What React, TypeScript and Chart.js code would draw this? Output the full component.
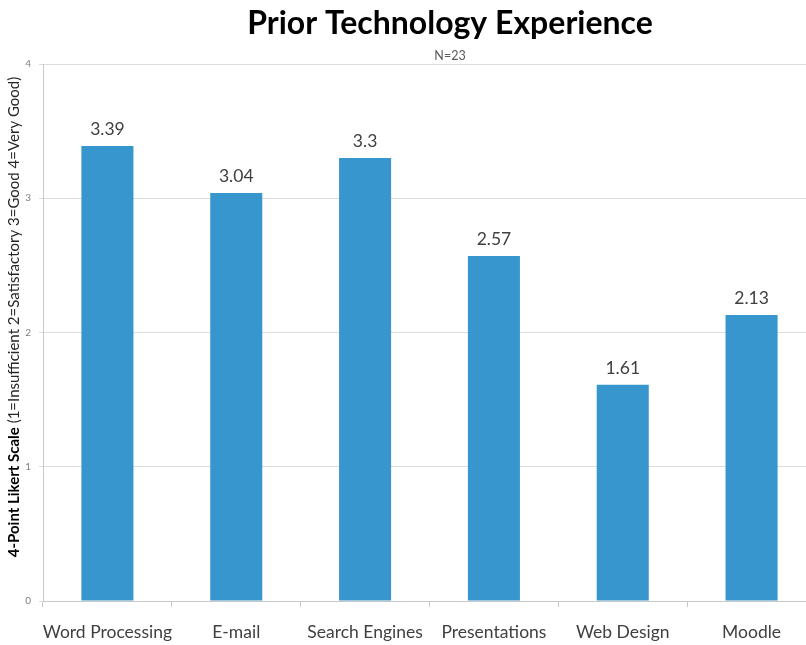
import React, { useEffect, useRef } from "react";
import { Chart, registerables } from "chart.js";

Chart.register(...registerables);

const categories = ["Word Processing", "E-mail", "Search Engines", "Presentations", "Web Design", "Moodle"];
const values = [3.39, 3.04, 3.3, 2.57, 1.61, 2.13];
const yTicks = [0, 1, 2, 3, 4];
const titleText = "Prior Technology Experience";
const subtitleText = "N=23";
const yLabelBold = "4-Point Likert Scale";
const yLabelNormal = " (1=Insufficient 2=Satisfactory 3=Good 4=Very Good)";

const FONT = "Lato, 'Open Sans', sans-serif";

const decorPlugin = {
  id: "decor",
  afterDraw(chart: any) {
    const ctx = chart.ctx;
    const area = chart.chartArea;
    ctx.save();
    // title
    ctx.fillStyle = "#000000";
    ctx.textAlign = "center";
    ctx.textBaseline = "alphabetic";
    ctx.font = `bold 32px ${FONT}`;
    ctx.fillText(titleText, 450, 34);
    ctx.textBaseline = "middle";
    ctx.font = `12.5px ${FONT}`;
    ctx.fillStyle = "#595959";
    ctx.fillText(subtitleText, 450, 56);
    // data labels
    const meta = chart.getDatasetMeta(0);
    ctx.textBaseline = "alphabetic";
    ctx.font = `17.5px ${FONT}`;
    ctx.fillStyle = "#404040";
    meta.data.forEach((bar: any, i: number) => {
      ctx.fillText(String(values[i]), bar.x, bar.y - 11);
    });
    // y axis label
    ctx.translate(14, 317);
    ctx.rotate(-Math.PI / 2);
    ctx.textAlign = "left";
    ctx.textBaseline = "middle";
    const sz = 15;
    ctx.font = `bold ${sz}px ${FONT}`;
    const wb = ctx.measureText(yLabelBold).width;
    ctx.font = `${sz}px ${FONT}`;
    const wn = ctx.measureText(yLabelNormal).width;
    const start = -(wb + wn) / 2;
    ctx.fillStyle = "#000000";
    ctx.font = `bold ${sz}px ${FONT}`;
    ctx.fillText(yLabelBold, start, 0);
    ctx.font = `${sz}px ${FONT}`;
    ctx.fillStyle = "#262626";
    ctx.fillText(yLabelNormal, start + wb, 0);
    ctx.restore();
  },
};

export default function App() {
  const ref = useRef<HTMLCanvasElement | null>(null);
  useEffect(() => {
    if (!ref.current) return;
    const chart = new Chart(ref.current, {
      type: "bar",
      data: {
        labels: categories,
        datasets: [
          {
            data: values,
            backgroundColor: "#3896CE",
            borderWidth: 0,
            barPercentage: 0.404,
            categoryPercentage: 1,
          },
        ],
      },
      options: {
        animation: false,
        responsive: false,
        maintainAspectRatio: false,
        layout: { padding: { top: 64, right: 14, left: 0, bottom: 0 } },
        plugins: {
          legend: { display: false },
          title: { display: false },
          tooltip: { enabled: false },
        },
        scales: {
          x: {
            grid: {
              display: true,
              drawOnChartArea: false,
              drawTicks: true,
              tickLength: 6,
              color: "#c8c8c8",
              offset: true,
            },
            border: { color: "#c8c8c8" },
            ticks: {
              font: { family: FONT, size: 17.5 },
              color: "#404040",
              padding: 15,
              maxRotation: 0,
              autoSkip: false,
            },
            afterFit(scale: any) {
              scale.height = 44;
            },
          },
          y: {
            min: 0,
            max: 4,
            afterBuildTicks(scale: any) {
              scale.ticks = yTicks.map((v) => ({ value: v }));
            },
            grid: { color: "#dcdcdc", tickLength: 4 },
            border: { color: "#c8c8c8" },
            ticks: {
              font: { family: FONT, size: 10 },
              color: "#7f7f7f",
              padding: 8,
            },
            afterFit(scale: any) {
              scale.width = 43;
            },
          },
        },
      },
      plugins: [decorPlugin],
    });
    return () => chart.destroy();
  }, []);
  return (
    <div style={{ position: "fixed", left: 0, top: 0, width: 806, height: 645, overflow: "hidden", background: "#fff" }}>
      <canvas ref={ref} width={830} height={645} style={{ display: "block", width: 830, height: 645 }} />
    </div>
  );
}
